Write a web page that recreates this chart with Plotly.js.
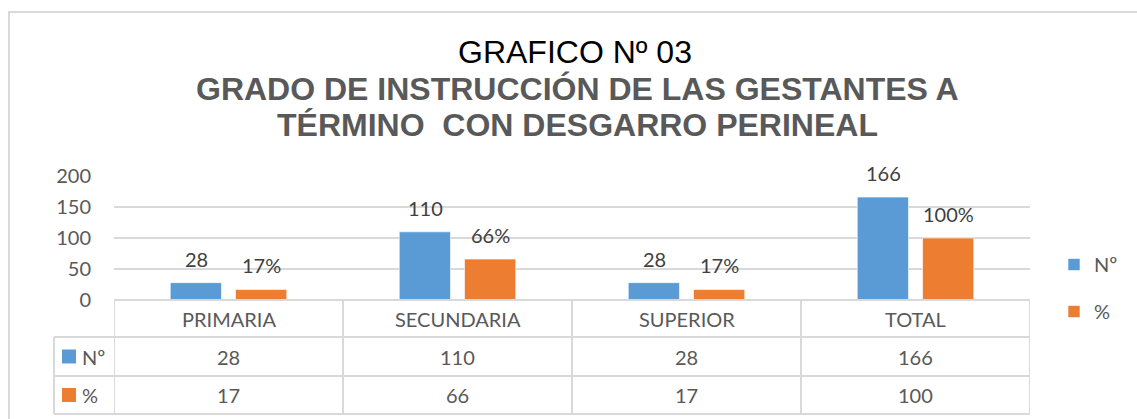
<!DOCTYPE html>
<html>
<head>
<meta charset="utf-8">
<script src="https://cdn.plot.ly/plotly-3.0.1.min.js"></script>
<style>
  html, body { margin: 0; padding: 0; background: #ffffff; overflow: hidden; }
  #chart { position: absolute; left: 0; top: 0; width: 1137px; height: 419px; }
  #frame { position: absolute; left: 8px; top: 11px; width: 1200px; height: 500px;
           border: 2px solid #d9d9d9; box-sizing: border-box; pointer-events: none; }
</style>
</head>
<body>
<div id="chart"></div>
<div id="frame"></div>
<script>
// ---- data ----
const categories = ["PRIMARIA", "SECUNDARIA", "SUPERIOR", "TOTAL"];
const seriesNames = ["Nº", "%"];
const countValues = [28, 110, 28, 166];
const percentValues = [17, 66, 17, 100];
const yTicks = [0, 50, 100, 150, 200];
const titleLine1 = "GRAFICO Nº 03";
const titleLine2 = "GRADO DE INSTRUCCIÓN DE LAS GESTANTES A";
const titleLine3 = "TÉRMINO  CON DESGARRO PERINEAL";

// ---- styling / layout ----
const W = 1137, H = 419;
const M = { l: 114, r: 107, t: 176, b: 119 };
const plotW = W - M.l - M.r, plotH = H - M.t - M.b;
const blue = "#5B9BD5", orange = "#ED7D31";
const grid = "#d9d9d9", txt = "#595959", lbl = "#404040";
const bodyFont = "Lato, Calibri, 'Open Sans', sans-serif";
const titleFont = "Arial, 'Liberation Sans', sans-serif";

const py = p => (H - M.b - p) / plotH;      // pixel y -> paper y
const px = p => (p - M.l) / plotW;          // pixel x -> paper x

const series = [countValues, percentValues];
const colors = [blue, orange];

const traces = series.map((vals, i) => ({
  type: "bar",
  name: seriesNames[i],
  x: categories,
  y: vals,
  marker: { color: colors[i], line: { color: "rgba(255,255,255,0.6)", width: 1 } },
  legendgroup: "g" + i,
  hoverinfo: "skip"
}));

// table geometry (pixels)
const tableTop = H - M.b;         // 300
const rowBottoms = [337, 376, 414];
const labelColLeft = 54;

const shapes = [];
const lineStyle = { color: grid, width: 2 };
// horizontal lines
shapes.push({ type: "line", xref: "paper", yref: "paper", x0: 0, x1: 1, y0: 0, y1: 0, line: lineStyle });
rowBottoms.forEach(rb => {
  shapes.push({ type: "line", xref: "paper", yref: "paper", x0: px(labelColLeft), x1: 1, y0: py(rb), y1: py(rb), line: lineStyle });
});
// vertical lines at category boundaries
for (let k = 0; k <= categories.length; k++) {
  shapes.push({ type: "line", xref: "x", yref: "paper", x0: k - 0.5, x1: k - 0.5, y0: 0, y1: py(rowBottoms[2]), line: lineStyle });
}
shapes.push({ type: "line", xref: "paper", yref: "paper", x0: px(labelColLeft), x1: px(labelColLeft), y0: py(rowBottoms[0]), y1: py(rowBottoms[2]), line: lineStyle });

const annotations = [];
// table header
categories.forEach((c, k) => {
  annotations.push({ xref: "x", yref: "paper", x: k, y: py((tableTop + rowBottoms[0]) / 2), text: c,
    showarrow: false, xanchor: "center", yanchor: "middle", font: { family: bodyFont, size: 20, color: txt } });
});
// table rows
const rowTops = [rowBottoms[0], rowBottoms[1]];
series.forEach((vals, i) => {
  const yc = (rowTops[i] + rowBottoms[i + 1]) / 2;
  vals.forEach((v, k) => {
    annotations.push({ xref: "x", yref: "paper", x: k, y: py(yc), text: String(v),
      showarrow: false, xanchor: "center", yanchor: "middle", font: { family: bodyFont, size: 20, color: txt } });
  });
  // legend key in row label
  shapes.push({ type: "rect", xref: "paper", yref: "paper", x0: px(62), x1: px(76), y0: py(yc - 7), y1: py(yc + 7),
    fillcolor: colors[i], line: { width: 0 } });
  annotations.push({ xref: "paper", yref: "paper", x: px(80), y: py(yc), text: seriesNames[i],
    showarrow: false, xanchor: "left", yanchor: "middle", font: { family: bodyFont, size: 20, color: txt } });
});
// data labels above bars
const barOffset = 32.5;
series.forEach((vals, i) => {
  vals.forEach((v, k) => {
    annotations.push({ xref: "x", yref: "y", x: categories[k], y: v, text: i === 0 ? String(v) : v + "%",
      showarrow: false, xanchor: "center", yanchor: "bottom", xshift: i === 0 ? -barOffset : barOffset, yshift: 10,
      font: { family: bodyFont, size: 20, color: lbl } });
  });
});
// title lines
annotations.push({ xref: "paper", yref: "paper", x: px(575), y: py(52), text: titleLine1, showarrow: false,
  xanchor: "center", yanchor: "middle", font: { family: titleFont, size: 32, color: "#000000" } });
annotations.push({ xref: "paper", yref: "paper", x: px(577), y: py(89), text: "<b>" + titleLine2 + "</b>", showarrow: false,
  xanchor: "center", yanchor: "middle", font: { family: titleFont, size: 32, color: txt } });
annotations.push({ xref: "paper", yref: "paper", x: px(577), y: py(125), text: "<b>" + titleLine3 + "</b>", showarrow: false,
  xanchor: "center", yanchor: "middle", font: { family: titleFont, size: 32, color: txt } });

const layout = {
  width: W, height: H,
  margin: M,
  paper_bgcolor: "rgba(0,0,0,0)",
  plot_bgcolor: "rgba(0,0,0,0)",
  barmode: "group",
  bargap: 0.43,
  bargroupgap: 0.215,
  showlegend: true,
  legend: { orientation: "v", x: px(1054), xanchor: "left", y: py(288), yanchor: "middle",
    tracegroupgap: 18, font: { family: bodyFont, size: 20, color: txt }, bgcolor: "rgba(0,0,0,0)" },
  xaxis: { type: "category", range: [-0.5, categories.length - 0.5], showticklabels: false, showgrid: false,
    zeroline: false, showline: false, ticks: "", fixedrange: true },
  yaxis: { range: [0, 200], tickvals: yTicks, ticktext: yTicks.map(String), showgrid: true, gridcolor: grid, gridwidth: 2,
    zeroline: false, showline: false, ticks: "", ticklabelstandoff: 22,
    tickfont: { family: bodyFont, size: 20, color: txt }, fixedrange: true },
  shapes: shapes,
  annotations: annotations
};

Plotly.newPlot("chart", traces, layout, { displayModeBar: false, staticPlot: true });
</script>
</body>
</html>
